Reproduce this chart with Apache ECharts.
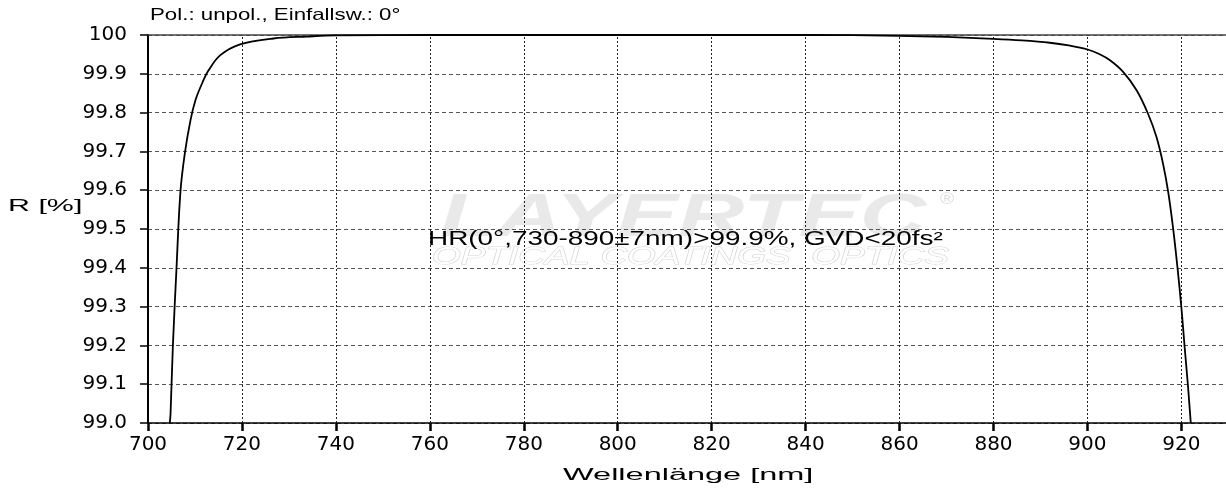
<!DOCTYPE html>
<html><head><meta charset="utf-8">
<script src="https://cdn.jsdelivr.net/npm/echarts@6/dist/echarts.min.js"></script>
<style>html,body{margin:0;padding:0;background:#fff}#c{width:1226px;height:491px}</style>
</head><body><div id="c"></div>
<script>
const wavelengths = [704.64,704.8,705.3,706.06,706.9,707.83,709.04,710.1,711.5,712.9,715.4,719.6,726.7,733.9,740,760,800,840,860,870,880,886,892,896,900.2,902.5,904.8,907.6,910.5,912.9,914.7,916.1,917.2,918.3,919.2,920.0,920.7,921.4,922.0];
const reflectance = [99.0,99.024,99.2,99.397,99.595,99.694,99.78,99.832,99.875,99.909,99.948,99.976,99.991,99.996,99.999,100,100,100,99.998,99.995,99.99,99.986,99.98,99.973,99.962,99.951,99.935,99.905,99.857,99.797,99.737,99.668,99.595,99.496,99.397,99.298,99.195,99.096,99.0];
const xTicks = [700,720,740,760,780,800,820,840,860,880,900,920];
const yTicks = [99.0,99.1,99.2,99.3,99.4,99.5,99.6,99.7,99.8,99.9,100];
const titleText = 'Pol.: unpol., Einfallsw.: 0°';
const yName = 'R [%]';
const xName = 'Wellenlänge [nm]';
const noteText = 'HR(0°,730-890±7nm)>99.9%, GVD<20fs²';

const chart = echarts.init(document.getElementById('c'));
const F = 'Liberation Sans, Arial, sans-serif';
const TF = 'DejaVu Sans, sans-serif';
function txt(text, x, y, size, sx, extra){
  return Object.assign({type:'text', x:x, y:y, scaleX:sx, scaleY:1,
    style:Object.assign({text:text, font:size+'px '+F, fill:'#000', verticalAlign:'top', align:'left'}, extra||{})});
}
chart.setOption({
  animation:false,
  backgroundColor:'#fff',
  grid:{left:148,right:0,top:35,bottom:68},
  graphic:[
    Object.assign(txt('LAYERTEC',440,188,62,1.48,{font:'italic bold 62px '+F,fill:'#e9e9e9'}),{z:0}),
    Object.assign(txt('®',940,192,16,1.2,{fill:'#dddddd'}),{z:0}),
    Object.assign(txt('OPTICAL COATINGS  OPTICS',432,245,24,1.54,{font:'italic 24px '+F,fill:'#ffffff',stroke:'#d4d4d4',lineWidth:1}),{z:0}),
    txt(titleText,150,7,16.5,1.35),
    txt(yName,8,199,16,1.9),
    txt(xName,563,468,16,2.03),
    Object.assign(txt(noteText,428,230,19.5,1.43),{z:10})
  ],
  xAxis:[{type:'value',min:700,max:929.5,interval:20,
    axisLine:{show:true,lineStyle:{color:'#000',width:1.5}},
    axisTick:{show:true,length:8,customValues:xTicks,lineStyle:{color:'#000',width:2.5}},
    axisLabel:{color:'#000',fontSize:20,fontFamily:TF,margin:12,customValues:xTicks,
      formatter:v=>String(v)},
    splitLine:{show:false}
  },{type:'value',position:'top',min:700,max:929.5,interval:20,
    axisLine:{show:true,lineStyle:{color:'#444',width:1.5}},
    axisTick:{show:false},axisLabel:{show:false},splitLine:{show:false}
  }],
  yAxis:{type:'value',min:99.0,max:100,interval:0.1,
    axisLine:{show:true,lineStyle:{color:'#000',width:2}},
    axisTick:{show:true,length:8,lineStyle:{color:'#000',width:1.5}},
    axisLabel:{color:'#000',fontSize:20,fontFamily:TF,margin:21,
      formatter:v=>{const t=yTicks.find(k=>Math.abs(k-v)<1e-6);return t===undefined?'':(t===100?'100':t.toFixed(1));}},
    splitLine:{show:true,lineStyle:{color:'#555',type:[4,3],width:1}}
  },
  series:[{type:'line',xAxisIndex:0,data:wavelengths.map((w,i)=>[w,reflectance[i]]),
    smooth:0.35,showSymbol:false,lineStyle:{color:'#000',width:1.8},clip:true,z:5,
    markLine:{silent:true,symbol:['none','none'],label:{show:false},animation:false,
      lineStyle:{color:'#222',type:[2,2],width:1},
      data:xTicks.slice(1).map(v=>({xAxis:v}))}
  }]
});
</script></body></html>
